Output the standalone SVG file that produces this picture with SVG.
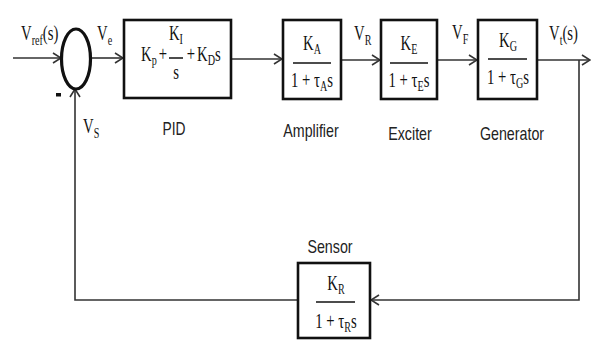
<svg xmlns="http://www.w3.org/2000/svg" width="592" height="341" viewBox="0 0 592 341">
<style>
.box{fill:#fff;stroke:#111;stroke-width:2.6}
.m{font-family:"Liberation Serif","DejaVu Serif",serif;font-size:16px;fill:#111}
.mc{text-anchor:middle}
.s{font-size:11px}
.lbl{font-family:"Liberation Sans","Open Sans",sans-serif;font-size:15px;fill:#222;text-anchor:middle}
.ln{stroke:#333;stroke-width:1.6;fill:none}
.bar{stroke:#111;stroke-width:1.5}
</style>
<defs>
<marker id="ar" markerWidth="10" markerHeight="12" refX="9" refY="6" orient="auto" markerUnits="userSpaceOnUse">
<path d="M1,1 L9,6 L1,11" fill="none" stroke="#333" stroke-width="1.6"/>
</marker>
</defs>
<rect width="592" height="341" fill="#fff"/>
<g id="connectors">
<path class="ln" d="M13,58 L61,58" marker-end="url(#ar)"/>
<path class="ln" d="M91,58 L123,58" marker-end="url(#ar)"/>
<path class="ln" d="M232,59 L282,59" marker-end="url(#ar)"/>
<path class="ln" d="M342,60 L380,60" marker-end="url(#ar)"/>
<path class="ln" d="M438,60 L477,60" marker-end="url(#ar)"/>
<path class="ln" d="M538,60 L590,60" marker-end="url(#ar)"/>
<path class="ln" d="M579,60 L579,300 L371,300" marker-end="url(#ar)"/>
<path class="ln" d="M297,300 L75,300 L75,89" marker-end="url(#ar)"/>
</g>
<g id="sum">
<ellipse cx="76" cy="59" rx="14.5" ry="30" fill="#fff" stroke="#111" stroke-width="3.2"/>
<rect x="56" y="93" width="5" height="3.5" fill="#111"/>
</g>
<g id="signals">
<text class="m" transform="translate(21,40) scale(0.92,1.28)">V<tspan class="s" dy="4">ref</tspan><tspan dy="-4">(s)</tspan></text>
<text class="m" transform="translate(97,40) scale(0.92,1.28)">V<tspan class="s" dy="4">e</tspan></text>
<text class="m" transform="translate(83,133) scale(0.92,1.28)">V<tspan class="s" dy="4">S</tspan></text>
<text class="m" transform="translate(354,40) scale(0.92,1.28)">V<tspan class="s" dy="4">R</tspan></text>
<text class="m" transform="translate(452,39) scale(0.92,1.28)">V<tspan class="s" dy="4">F</tspan></text>
<text class="m" transform="translate(549,40) scale(0.92,1.28)">V<tspan class="s" dy="4">t</tspan><tspan dy="-4">(s)</tspan></text>
</g>
<g id="pid">
<rect class="box" x="124" y="20" width="107" height="78"/>
<text class="m" transform="translate(141,61) scale(0.92,1.28)">K<tspan class="s" dy="3">p</tspan></text>
<text class="m mc" transform="translate(163,61) scale(0.92,1.28)">+</text>
<text class="m mc" transform="translate(176,40) scale(0.92,1.28)">K<tspan class="s" dy="3">I</tspan></text>
<line class="bar" x1="169" y1="58" x2="183" y2="58"/>
<text class="m mc" transform="translate(176,79) scale(0.92,1.28)">s</text>
<text class="m mc" transform="translate(191,61) scale(0.92,1.28)">+</text>
<text class="m" transform="translate(197,61) scale(0.92,1.28)">K<tspan class="s" dy="3">D</tspan><tspan dy="-3">s</tspan></text>
<text class="lbl" transform="translate(174,135) scale(0.92,1.22)">PID</text>
</g>
<g id="amplifier">
<rect class="box" x="283" y="20" width="58" height="79"/>
<text class="m mc" transform="translate(312,50) scale(0.92,1.28)">K<tspan class="s" dy="3">A</tspan></text>
<line class="bar" x1="293" y1="63" x2="331" y2="63"/>
<text class="m mc" transform="translate(312,87) scale(0.92,1.28)">1 + τ<tspan class="s" dy="3">A</tspan><tspan dy="-3">s</tspan></text>
<text class="lbl" transform="translate(311,137) scale(0.95,1.22)">Amplifier</text>
</g>
<g id="exciter">
<rect class="box" x="381" y="20" width="56" height="79"/>
<text class="m mc" transform="translate(409,50) scale(0.92,1.28)">K<tspan class="s" dy="3">E</tspan></text>
<line class="bar" x1="390" y1="63" x2="428" y2="63"/>
<text class="m mc" transform="translate(409,87) scale(0.92,1.28)">1 + τ<tspan class="s" dy="3">E</tspan><tspan dy="-3">s</tspan></text>
<text class="lbl" transform="translate(410,140) scale(0.95,1.22)">Exciter</text>
</g>
<g id="generator">
<rect class="box" x="478" y="20" width="59" height="79"/>
<text class="m mc" transform="translate(508,47) scale(0.92,1.28)">K<tspan class="s" dy="3">G</tspan></text>
<line class="bar" x1="488" y1="59" x2="527" y2="59"/>
<text class="m mc" transform="translate(508,84) scale(0.92,1.28)">1 + τ<tspan class="s" dy="3">G</tspan><tspan dy="-3">s</tspan></text>
<text class="lbl" transform="translate(512,140) scale(0.95,1.22)">Generator</text>
</g>
<g id="sensor">
<rect class="box" x="298" y="263" width="72" height="75"/>
<text class="m mc" transform="translate(336,290) scale(0.92,1.28)">K<tspan class="s" dy="3">R</tspan></text>
<line class="bar" x1="316" y1="302" x2="355" y2="302"/>
<text class="m mc" transform="translate(336,328) scale(0.92,1.28)">1 + τ<tspan class="s" dy="3">R</tspan><tspan dy="-3">s</tspan></text>
<text class="lbl" transform="translate(330,253) scale(0.95,1.22)">Sensor</text>
</g>
</svg>
